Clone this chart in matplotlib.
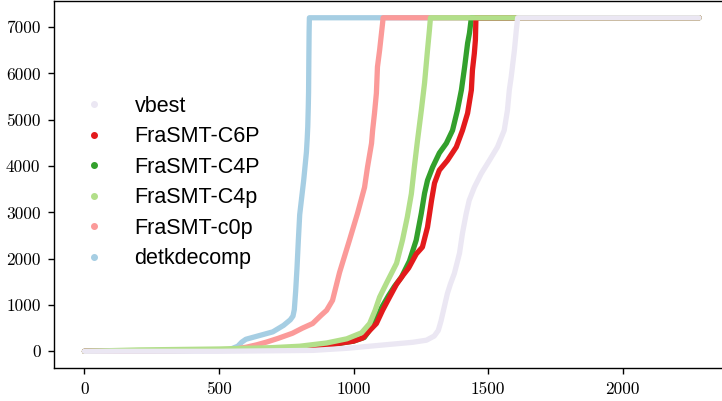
import matplotlib
matplotlib.use("Agg")
import matplotlib.pyplot as plt
from matplotlib.lines import Line2D

# cactus plot: instances sorted by runtime, timeouts at 7200 s
TIMEOUT = 7200
n_instances = 2285

det_rank = [0, 300, 500, 540, 570, 585, 600, 650, 700, 740, 765, 775, 780, 785, 790, 795,
            800, 805, 810, 815, 820, 825, 828, 830, 832, 833, 834, 835, 836]
det_time = [0, 5, 20, 40, 110, 200, 260, 340, 420, 560, 680, 760, 900, 1300, 1800, 2400,
            2950, 3200, 3450, 3700, 4000, 4300, 4600, 4850, 5300, 5600, 6300, 6900, 7200]

c0p_rank = [0, 300, 550, 602, 640, 677, 720, 773, 810, 848, 880, 900, 922, 948, 985, 1015,
            1041, 1052, 1067, 1071, 1078, 1085, 1089, 1097, 1104, 1108, 1110]
c0p_time = [0, 10, 40, 90, 140, 200, 280, 390, 500, 600, 780, 885, 1100, 1700, 2400, 2980,
            3540, 3975, 4490, 4770, 5140, 5570, 6140, 6500, 6870, 7080, 7200]

c4p_rank = [0, 200, 500, 700, 800, 900, 975, 1030, 1060, 1080, 1097, 1125, 1160, 1182, 1200,
            1215, 1226, 1238, 1252, 1264, 1275, 1282, 1286]
c4p_time = [0, 30, 50, 80, 110, 180, 270, 400, 600, 880, 1170, 1500, 1900, 2400, 2900,
            3400, 3975, 4560, 5200, 5790, 6500, 6930, 7200]

c4P_rank = [0, 300, 600, 800, 900, 1000, 1040, 1065, 1085, 1105, 1130, 1152, 1178, 1208,
            1233, 1252, 1264, 1275, 1294, 1319, 1345, 1368, 1386, 1401, 1413, 1424, 1431, 1438]
c4P_time = [0, 10, 40, 80, 130, 220, 300, 500, 700, 950, 1200, 1400, 1600, 1950,
            2400, 2980, 3410, 3690, 3975, 4280, 4490, 4770, 5200, 5640, 6140, 6650, 6870, 7200]

c6P_rank = [0, 300, 600, 800, 900, 1000, 1035, 1060, 1085, 1108, 1134, 1160, 1185, 1205,
            1233, 1256, 1275, 1290, 1301, 1319, 1349, 1382, 1405, 1424, 1438, 1442, 1449,
            1453, 1455]
c6P_time = [0, 10, 40, 70, 130, 220, 290, 450, 600, 885, 1170, 1450, 1650, 1800,
            2100, 2250, 2680, 3260, 3630, 3910, 4120, 4410, 4770, 5140, 5640, 6070, 6430,
            6720, 7200]

vb_rank = [0, 500, 849, 975, 1097, 1220, 1271, 1300, 1315, 1325, 1335, 1349, 1360, 1375,
           1394, 1405, 1419, 1430, 1449, 1475, 1505, 1535, 1560, 1572, 1579, 1586, 1598,
           1605, 1610]
vb_time = [0, 0, 20, 65, 130, 195, 240, 330, 450, 650, 900, 1250, 1450, 1685,
           2120, 2550, 2980, 3260, 3540, 3840, 4120, 4410, 4770, 5200, 5640, 5920, 6500,
           6930, 7200]

labels = ["vbest", "FraSMT-C6P", "FraSMT-C4P", "FraSMT-C4p", "FraSMT-c0p", "detkdecomp"]
colors = ["#ebe7f3", "#e31a1c", "#33a02c", "#b2df8a", "#fb9a99", "#a6cee3"]

series = {
    "detkdecomp": (det_rank, det_time),
    "FraSMT-c0p": (c0p_rank, c0p_time),
    "FraSMT-C4P": (c4P_rank, c4P_time),
    "FraSMT-C6P": (c6P_rank, c6P_time),
    "FraSMT-C4p": (c4p_rank, c4p_time),
    "vbest": (vb_rank, vb_time),
}

fig = plt.figure(figsize=(7.22, 4.01), dpi=100)
ax = fig.add_axes([0.0744, 0.0823, 0.9363, 0.915])

for name, (rank, t) in series.items():
    col = colors[labels.index(name)]
    xs = rank + [n_instances - 1]
    ys = t + [TIMEOUT]
    ax.plot(xs, ys, color=col, lw=3.8, solid_capstyle="round", solid_joinstyle="round")

ax.set_xticks([0, 500, 1000, 1500, 2000])
ax.set_yticks(range(0, 8000, 1000))
for lab in ax.get_xticklabels() + ax.get_yticklabels():
    lab.set_fontfamily("cmr10")
    lab.set_fontsize(12.5)
ax.tick_params(direction="out", length=4.5, width=1.0, pad=5)
ax.spines["right"].set_visible(False)
for s in ["left", "bottom", "top"]:
    ax.spines[s].set_linewidth(1.0)

handles = [Line2D([], [], ls="none", marker="o", ms=4, color=c) for c in colors]
leg = ax.legend(handles, labels, loc="upper left", bbox_to_anchor=(72 / 722, 1 - 96 / 401),
                bbox_transform=fig.transFigure, frameon=False, borderpad=0, borderaxespad=0,
                handlelength=2, handletextpad=0.9, labelspacing=0.44,
                prop={"family": "Liberation Sans", "size": 15.5})

fig.savefig("out.png", dpi=100)
